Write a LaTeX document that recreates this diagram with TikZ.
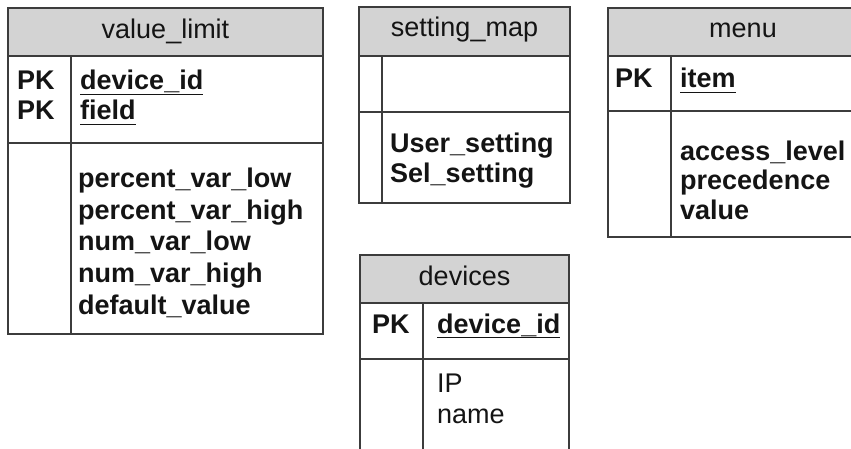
\documentclass[tikz,border=0pt]{standalone}
\usepackage{fontspec}
\setmainfont{Liberation Sans}
\definecolor{linegray}{HTML}{3C3C3C}
\definecolor{headgray}{HTML}{D3D3D3}
\definecolor{ink}{HTML}{141414}
\tikzset{
  frame/.style={draw=linegray, line width=1.6pt},
  headbox/.style={fill=headgray, draw=linegray, line width=1.6pt},
  title/.style={anchor=base, inner sep=0pt, text=ink, font=\fontsize{27}{30}\selectfont},
  field/.style={anchor=base west, inner sep=0pt, text=ink, font=\fontsize{27}{30}\selectfont\bfseries},
  plainfield/.style={anchor=base west, inner sep=0pt, text=ink, font=\fontsize{27}{30}\selectfont},
  keyline/.style={draw=ink, line width=1.8pt}
}
% underline a named field node just below its baseline
\newcommand{\keyunder}[1]{\draw[keyline] ([yshift=-4.5pt]#1.base west) -- ([yshift=-4.5pt]#1.base east);}
\begin{document}
\begin{tikzpicture}[x=1pt, y=-1pt]
\useasboundingbox (0,0) rectangle (851,449);
\clip (0,0) rectangle (851,449);

% ---------- value_limit ----------
\draw[headbox] (8,8) rectangle (323,56);
\draw[frame] (8,56) rectangle (323,334);
\draw[frame] (8,143) -- (323,143);
\draw[frame] (71,56) -- (71,334);
\node[title] (vltitle) at (165.5,39) {value\_limit};
\node[field] (vlpk1) at (17,90) {PK};
\node[field] (vlpk2) at (17,120) {PK};
\node[field] (vlkey1) at (80,90) {device\_id};
\node[field] (vlkey2) at (80,120) {field};
\keyunder{vlkey1}
\keyunder{vlkey2}
\node[field] (vlf1) at (78,188) {percent\_var\_low};
\node[field] (vlf2) at (78,219.5) {percent\_var\_high};
\node[field] (vlf3) at (78,251) {num\_var\_low};
\node[field] (vlf4) at (78,282.5) {num\_var\_high};
\node[field] (vlf5) at (78,314) {default\_value};

% ---------- setting_map ----------
\draw[headbox] (359,7) rectangle (570,56);
\draw[frame] (359,56) rectangle (570,203);
\draw[frame] (359,112) -- (570,112);
\draw[frame] (382,56) -- (382,203);
\node[title] (smtitle) at (464.5,37) {setting\_map};
\node[field] (smf1) at (390,153) {User\_setting};
\node[field] (smf2) at (390,183) {Sel\_setting};

% ---------- menu ----------
\draw[headbox] (608,8) rectangle (878,56);
\draw[frame] (608,56) rectangle (878,237);
\draw[frame] (608,111) -- (878,111);
\draw[frame] (671,56) -- (671,237);
\node[title] (mntitle) at (743,38) {menu};
\node[field] (mnpk) at (615,88) {PK};
\node[field] (mnkey) at (680,88) {item};
\keyunder{mnkey}
\node[field] (mnf1) at (680,161) {access\_level};
\node[field] (mnf2) at (680,190) {precedence};
\node[field] (mnf3) at (680,219) {value};

% ---------- devices ----------
\draw[headbox] (360,255) rectangle (569,303);
\draw[frame] (360,303) rectangle (569,470);
\draw[frame] (360,359) -- (569,359);
\draw[frame] (423,303) -- (423,470);
\node[title] (dvtitle) at (464.5,285) {devices};
\node[field] (dvpk) at (372,333) {PK};
\node[field] (dvkey) at (437,333) {device\_id};
\keyunder{dvkey}
\node[plainfield] (dvf1) at (437,392) {IP};
\node[plainfield] (dvf2) at (437,423) {name};
\end{tikzpicture}
\end{document}
